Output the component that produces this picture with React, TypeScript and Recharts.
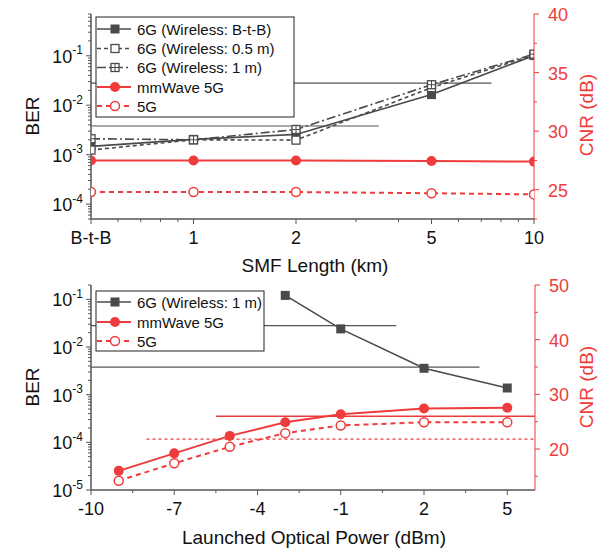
import React from 'react';
import { ComposedChart, Line, XAxis, YAxis, ReferenceLine } from 'recharts';

const GRAY = '#4a4a4a';
const AXIS = '#555555';
const RED = '#ef3b3b';
const FONT = '"Liberation Sans", Arial, sans-serif';

// ---- top panel: BER / CNR vs SMF length ----
const smfLength = [0.5, 1, 2, 5, 10];
const smfTickLabels = ['B-t-B', '1', '2', '5', '10'];
const smfMinorTicks = [0.6, 0.7, 0.8, 0.9, 3, 4, 6, 7, 8, 9];
const berBtb = [1.47e-3, 2.04e-3, 2.57e-3, 1.64e-2, 0.101];
const ber05m = [1.24e-3, 2.0e-3, 1.97e-3, 2.27e-2, 0.104];
const ber1m = [2.1e-3, 2.0e-3, 3.23e-3, 2.6e-2, 0.108];
const cnrMmwaveSmf = [27.5, 27.5, 27.5, 27.45, 27.4];
const cnr5gSmf = [24.8, 24.8, 24.8, 24.7, 24.6];
const topNames = ['6G (Wireless: B-t-B)', '6G (Wireless: 0.5 m)', '6G (Wireless: 1 m)', 'mmWave 5G', '5G'];

// ---- bottom panel: BER / CNR vs launched optical power ----
const launchPower = [-9, -7, -5, -3, -1, 2, 5];
const powerTicks = [-10, -7, -4, -1, 2, 5];
const powerMinorTicks = [-8.5, -5.5, -2.5, 0.5, 3.5];
const ber1mPower = [null, null, null, 0.121, 0.024, 3.58e-3, 1.38e-3];
const cnrMmwavePower = [16.0, 19.2, 22.4, 24.9, 26.35, 27.4, 27.55];
const cnr5gPower = [14.2, 17.4, 20.4, 22.9, 24.3, 24.9, 24.9];
const bottomNames = ['6G (Wireless: 1 m)', 'mmWave 5G', '5G'];

// FEC / CNR limits
const berLimits = [2.8e-2, 3.8e-3];
const berLimitEndTop = [7.5, 3.5];
const berLimitEndBottom = [1, 4];
const cnrLimits = [26, 21.8];
const cnrLimitStart = [-5.5, -8];

const topCnrTicks = [22.5, 25, 27.5, 30, 32.5, 35, 37.5, 40];
const topCnrMajor = [25, 30, 35, 40];
const bottomCnrTicks = [15, 20, 25, 30, 35, 40, 45, 50];
const bottomCnrMajor = [20, 30, 40, 50];

function logTicks(lo: number, hi: number) {
  const out: number[] = [];
  for (let e = Math.floor(Math.log10(lo)); e <= Math.ceil(Math.log10(hi)); e++) {
    for (let k = 1; k < 10; k++) {
      const v = k * Math.pow(10, e);
      if (v >= lo * 0.999 && v <= hi * 1.001) out.push(v);
    }
  }
  return out;
}
const isDecade = (v: number) => Math.abs(Math.log10(v) - Math.round(Math.log10(v))) < 1e-6;

function Marker({ kind, cx, cy, color }: any) {
  if (kind === 'filledSquare') return <rect x={cx - 4.5} y={cy - 4.5} width={9} height={9} fill={color} />;
  if (kind === 'openSquare')
    return <rect x={cx - 4} y={cy - 4} width={8} height={8} fill="#fff" stroke={color} strokeWidth={1.3} />;
  if (kind === 'crossSquare')
    return (
      <g>
        <rect x={cx - 4} y={cy - 4} width={8} height={8} fill="#fff" stroke={color} strokeWidth={1.3} />
        <line x1={cx - 4} x2={cx + 4} y1={cy} y2={cy} stroke={color} strokeWidth={1} />
        <line x1={cx} x2={cx} y1={cy - 4} y2={cy + 4} stroke={color} strokeWidth={1} />
      </g>
    );
  if (kind === 'filledCircle') return <circle cx={cx} cy={cy} r={5} fill={color} />;
  return <circle cx={cx} cy={cy} r={4.5} fill="#fff" stroke={color} strokeWidth={1.5} />;
}

const dotFor = (kind: string, color: string) => (p: any) => {
  if (p.cx == null || p.cy == null || p.value == null) return <g key={p.index} />;
  return (
    <g key={p.index}>
      <Marker kind={kind} cx={p.cx} cy={p.cy} color={color} />
    </g>
  );
};

const BerTick = (props: any) => {
  const { x, y, payload } = props;
  const v = payload.value;
  const major = isDecade(v);
  return (
    <g>
      <line x1={x - (major ? 5 : 3)} x2={x} y1={y} y2={y} stroke={AXIS} strokeWidth={1} />
      {major && (
        <text x={x - 8} y={y + 7} textAnchor="end" fontSize={18} fill="#111" fontFamily={FONT}>
          10
          <tspan dy={-8.3} fontSize={12}>
            {Math.round(Math.log10(v))}
          </tspan>
        </text>
      )}
    </g>
  );
};

const makeCnrTick = (majors: number[]) => (props: any) => {
  const { x, y, payload } = props;
  const major = majors.includes(payload.value);
  return (
    <g>
      <line x1={x} x2={x + (major ? 5 : 3)} y1={y} y2={y} stroke={RED} strokeWidth={1} />
      {major && (
        <text x={x + 14} y={y + 7} textAnchor="start" fontSize={18} fill={RED} fontFamily={FONT}>
          {payload.value}
        </text>
      )}
    </g>
  );
};

const makeXTick = (majors: number[], labels: string[]) => (props: any) => {
  const { x, y, payload } = props;
  const i = majors.indexOf(payload.value);
  return (
    <g>
      <line x1={x} x2={x} y1={y} y2={y + (i >= 0 ? 5 : 3)} stroke={AXIS} strokeWidth={1} />
      {i >= 0 && (
        <text x={x} y={y + 25} textAnchor="middle" fontSize={18} fill="#111" fontFamily={FONT}>
          {labels[i]}
        </text>
      )}
    </g>
  );
};

const makeTopTick = (majors: number[]) => (props: any) => {
  const { x, y, payload } = props;
  const major = majors.includes(payload.value);
  return <line x1={x} x2={x} y1={y} y2={y + (major ? 5 : 3)} stroke={AXIS} strokeWidth={1} />;
};

const topRows = smfLength.map((x, i) => ({
  x,
  btb: berBtb[i],
  m05: ber05m[i],
  m1: ber1m[i],
  mmw: cnrMmwaveSmf[i],
  g5: cnr5gSmf[i],
}));

const bottomRows = launchPower.map((x, i) => ({
  x,
  m1: ber1mPower[i],
  mmw: cnrMmwavePower[i],
  g5: cnr5gPower[i],
}));

const topSeries = [
  { key: 'btb', axis: 'ber', color: GRAY, dash: undefined, marker: 'filledSquare', width: 1.6 },
  { key: 'm05', axis: 'ber', color: GRAY, dash: '4 3', marker: 'openSquare', width: 1.6 },
  { key: 'm1', axis: 'ber', color: GRAY, dash: '9 3 2 3', marker: 'crossSquare', width: 1.6 },
  { key: 'mmw', axis: 'cnr', color: RED, dash: undefined, marker: 'filledCircle', width: 2 },
  { key: 'g5', axis: 'cnr', color: RED, dash: '5 4', marker: 'openCircle', width: 2 },
];

const bottomSeries = [
  { key: 'm1', axis: 'ber', color: GRAY, dash: undefined, marker: 'filledSquare', width: 1.6 },
  { key: 'mmw', axis: 'cnr', color: RED, dash: undefined, marker: 'filledCircle', width: 2 },
  { key: 'g5', axis: 'cnr', color: RED, dash: '5 4', marker: 'openCircle', width: 2 },
];

function LegendBox({ x, y, w, h, rows, names, series }: any) {
  return (
    <g>
      <rect x={x} y={y} width={w} height={h} fill="#fff" stroke="#222" strokeWidth={1} />
      {series.map((s: any, i: number) => (
        <g key={s.key}>
          <line x1={x + 1} x2={x + 35} y1={rows[i]} y2={rows[i]} stroke={s.color} strokeWidth={s.width} strokeDasharray={s.dash} />
          <Marker kind={s.marker} cx={x + 19} cy={rows[i]} color={s.color} />
          <text x={x + 41} y={rows[i] + 5.5} fontSize={15} fill="#111" fontFamily={FONT}>
            {names[i]}
          </text>
        </g>
      ))}
    </g>
  );
}

export default function App() {
  const topBer = logTicks(5e-5, 0.7);
  const bottomBer = logTicks(1e-5, 0.2);
  return (
    <div style={{ position: 'absolute', left: 0, top: 0, width: 598, height: 550, background: '#fff', fontFamily: FONT }}>
      <div style={{ position: 'absolute', left: 0, top: 0 }}>
        <ComposedChart width={598} height={275} data={topRows} margin={{ top: 14, right: 0, bottom: 0, left: 0 }}>
          <XAxis
            dataKey="x"
            type="number"
            scale="log"
            domain={[0.5, 10]}
            allowDataOverflow
            ticks={[...smfLength, ...smfMinorTicks]}
            interval={0}
            height={56}
            tickSize={0}
            tickMargin={0}
            tickLine={false}
            axisLine={{ stroke: AXIS, strokeWidth: 1.5 }}
            tick={makeXTick(smfLength, smfTickLabels)}
          />
          <XAxis
            xAxisId="top"
            orientation="top"
            type="number"
            scale="log"
            domain={[0.5, 10]}
            allowDataOverflow
            ticks={[...smfLength, ...smfMinorTicks]}
            interval={0}
            height={0}
            tickSize={0}
            tickMargin={0}
            tickLine={false}
            axisLine={{ stroke: AXIS, strokeWidth: 1.5 }}
            tick={makeTopTick(smfLength)}
          />
          <YAxis
            yAxisId="ber"
            type="number"
            scale="log"
            domain={[5e-5, 0.7]}
            allowDataOverflow
            ticks={topBer}
            interval={0}
            width={91}
            tickSize={0}
            tickMargin={0}
            tickLine={false}
            axisLine={{ stroke: AXIS, strokeWidth: 1.5 }}
            tick={BerTick}
          />
          <YAxis
            yAxisId="cnr"
            orientation="right"
            type="number"
            domain={[22.5, 40]}
            allowDataOverflow
            ticks={topCnrTicks}
            interval={0}
            width={64}
            tickSize={0}
            tickMargin={0}
            tickLine={false}
            axisLine={{ stroke: RED, strokeWidth: 1 }}
            tick={makeCnrTick(topCnrMajor)}
          />
          {berLimits.map((b, i) => (
            <ReferenceLine
              key={'bl' + i}
              yAxisId="ber"
              segment={[{ x: 0.5, y: b }, { x: berLimitEndTop[i], y: b }]}
              stroke={AXIS}
              strokeWidth={1.2}
            />
          ))}
          {topSeries.map((s) => (
            <Line
              key={s.key}
              dataKey={s.key}
              yAxisId={s.axis}
              type="linear"
              stroke={s.color}
              strokeWidth={s.width}
              strokeDasharray={s.dash}
              dot={dotFor(s.marker, s.color)}
              activeDot={false}
              isAnimationActive={false}
            />
          ))}
        </ComposedChart>
      </div>
      <div style={{ position: 'absolute', left: 0, top: 275 }}>
        <ComposedChart width={598} height={275} data={bottomRows} margin={{ top: 10, right: 0, bottom: 0, left: 0 }}>
          <XAxis
            dataKey="x"
            type="number"
            domain={[-10, 6]}
            allowDataOverflow
            ticks={[...powerTicks, ...powerMinorTicks]}
            interval={0}
            height={60}
            tickSize={0}
            tickMargin={0}
            tickLine={false}
            axisLine={{ stroke: AXIS, strokeWidth: 1.5 }}
            tick={makeXTick(powerTicks, powerTicks.map(String))}
          />
          <XAxis
            xAxisId="top"
            orientation="top"
            type="number"
            domain={[-10, 6]}
            allowDataOverflow
            ticks={[]}
            height={0}
            tickSize={0}
            tickLine={false}
            tick={false}
            axisLine={{ stroke: AXIS, strokeWidth: 1.5 }}
          />
          <YAxis
            yAxisId="ber"
            type="number"
            scale="log"
            domain={[1e-5, 0.2]}
            allowDataOverflow
            ticks={bottomBer}
            interval={0}
            width={91}
            tickSize={0}
            tickMargin={0}
            tickLine={false}
            axisLine={{ stroke: AXIS, strokeWidth: 1.5 }}
            tick={BerTick}
          />
          <YAxis
            yAxisId="cnr"
            orientation="right"
            type="number"
            domain={[12.5, 50]}
            allowDataOverflow
            ticks={bottomCnrTicks}
            interval={0}
            width={63}
            tickSize={0}
            tickMargin={0}
            tickLine={false}
            axisLine={{ stroke: RED, strokeWidth: 1 }}
            tick={makeCnrTick(bottomCnrMajor)}
          />
          {berLimits.map((b, i) => (
            <ReferenceLine
              key={'bl' + i}
              yAxisId="ber"
              segment={[{ x: -10, y: b }, { x: berLimitEndBottom[i], y: b }]}
              stroke={AXIS}
              strokeWidth={1.2}
            />
          ))}
          {cnrLimits.map((c, i) => (
            <ReferenceLine
              key={'cl' + i}
              yAxisId="cnr"
              segment={[{ x: cnrLimitStart[i], y: c }, { x: 6, y: c }]}
              stroke={RED}
              strokeWidth={i === 0 ? 1.5 : 1.3}
              strokeDasharray={i === 0 ? undefined : '3 3'}
            />
          ))}
          {bottomSeries.map((s) => (
            <Line
              key={s.key}
              dataKey={s.key}
              yAxisId={s.axis}
              type="linear"
              stroke={s.color}
              strokeWidth={s.width}
              strokeDasharray={s.dash}
              dot={dotFor(s.marker, s.color)}
              activeDot={false}
              isAnimationActive={false}
            />
          ))}
        </ComposedChart>
      </div>
      <svg width={598} height={550} style={{ position: 'absolute', left: 0, top: 0, pointerEvents: 'none' }}>
        <LegendBox x={96} y={17} w={198} h={100} rows={[29, 48.5, 67.5, 87, 106]} names={topNames} series={topSeries} />
        <LegendBox x={96} y={291} w={168} h={60} rows={[302, 322, 341]} names={bottomNames} series={bottomSeries} />
        <text transform="rotate(-90 39 116)" x={39} y={116} textAnchor="middle" fontSize={19} fill="#111" fontFamily={FONT}>
          BER
        </text>
        <text transform="rotate(-90 39 387)" x={39} y={387} textAnchor="middle" fontSize={19} fill="#111" fontFamily={FONT}>
          BER
        </text>
        <text transform="rotate(-90 593 115)" x={593} y={115} textAnchor="middle" fontSize={19} fill={RED} fontFamily={FONT}>
          CNR (dB)
        </text>
        <text transform="rotate(-90 593 387)" x={593} y={387} textAnchor="middle" fontSize={19} fill={RED} fontFamily={FONT}>
          CNR (dB)
        </text>
        <text x={315} y={272} textAnchor="middle" fontSize={19} fill="#111" fontFamily={FONT}>
          SMF Length (km)
        </text>
        <text x={314} y={544} textAnchor="middle" fontSize={19} fill="#111" fontFamily={FONT}>
          Launched Optical Power (dBm)
        </text>
      </svg>
    </div>
  );
}
